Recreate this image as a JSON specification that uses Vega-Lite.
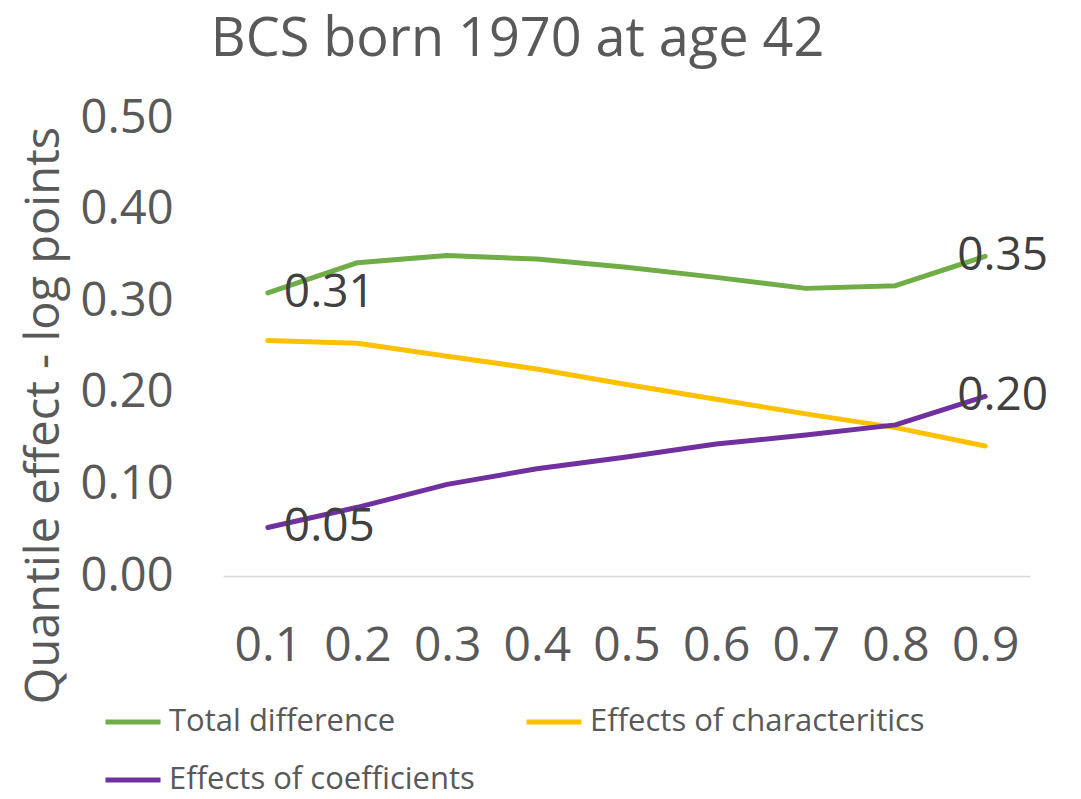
{
  "$schema": "https://vega.github.io/schema/vega-lite/v6.json",
  "width": 807,
  "height": 458,
  "autosize": "none",
  "padding": {"left": 223, "top": 118, "right": 51, "bottom": 223},
  "background": "white",
  "title": {
    "text": "BCS born 1970 at age 42",
    "font": "Open Sans",
    "fontSize": 54,
    "fontWeight": "normal",
    "color": "#595959",
    "anchor": "middle",
    "dx": -109,
    "offset": 27
  },
  "data": {
    "values": [
      {"q": "0.1", "series": "Total difference", "value": 0.309},
      {"q": "0.2", "series": "Total difference", "value": 0.342},
      {"q": "0.3", "series": "Total difference", "value": 0.350},
      {"q": "0.4", "series": "Total difference", "value": 0.346},
      {"q": "0.5", "series": "Total difference", "value": 0.337},
      {"q": "0.6", "series": "Total difference", "value": 0.326},
      {"q": "0.7", "series": "Total difference", "value": 0.314},
      {"q": "0.8", "series": "Total difference", "value": 0.317},
      {"q": "0.9", "series": "Total difference", "value": 0.349},
      {"q": "0.1", "series": "Effects of characteritics", "value": 0.257},
      {"q": "0.2", "series": "Effects of characteritics", "value": 0.254},
      {"q": "0.3", "series": "Effects of characteritics", "value": 0.240},
      {"q": "0.4", "series": "Effects of characteritics", "value": 0.226},
      {"q": "0.5", "series": "Effects of characteritics", "value": 0.209},
      {"q": "0.6", "series": "Effects of characteritics", "value": 0.193},
      {"q": "0.7", "series": "Effects of characteritics", "value": 0.177},
      {"q": "0.8", "series": "Effects of characteritics", "value": 0.162},
      {"q": "0.9", "series": "Effects of characteritics", "value": 0.142},
      {"q": "0.1", "series": "Effects of coefficients", "value": 0.053},
      {"q": "0.2", "series": "Effects of coefficients", "value": 0.075},
      {"q": "0.3", "series": "Effects of coefficients", "value": 0.100},
      {"q": "0.4", "series": "Effects of coefficients", "value": 0.117},
      {"q": "0.5", "series": "Effects of coefficients", "value": 0.130},
      {"q": "0.6", "series": "Effects of coefficients", "value": 0.144},
      {"q": "0.7", "series": "Effects of coefficients", "value": 0.154},
      {"q": "0.8", "series": "Effects of coefficients", "value": 0.165},
      {"q": "0.9", "series": "Effects of coefficients", "value": 0.196}
    ]
  },
  "encoding": {
    "x": {
      "field": "q",
      "type": "ordinal",
      "scale": {"type": "point", "padding": 0.5},
      "axis": {
        "title": null,
        "labelAngle": 0,
        "labelFont": "Open Sans",
        "labelFontSize": 48,
        "labelColor": "#595959",
        "labelBaseline": "middle",
        "labelPadding": 70,
        "ticks": false,
        "tickSize": 0,
        "grid": false,
        "domain": true,
        "domainColor": "#D9D9D9",
        "domainWidth": 1.5
      }
    },
    "y": {
      "field": "value",
      "type": "quantitative",
      "scale": {"domain": [0, 0.5], "nice": false, "zero": true},
      "axis": {
        "values": [0, 0.1, 0.2, 0.3, 0.4, 0.5],
        "format": ".2f",
        "title": "Quantile effect - log points",
        "titleFont": "Open Sans",
        "titleFontSize": 47,
        "titleFontWeight": "normal",
        "titleColor": "#595959",
        "titleAngle": -90,
        "titleX": -165,
        "titleY": 297,
        "titleAlign": "center",
        "titleBaseline": "alphabetic",
        "labelFont": "Open Sans",
        "labelFontSize": 47,
        "labelColor": "#595959",
        "labelPadding": 50,
        "labelBaseline": "middle",
        "ticks": false,
        "tickSize": 0,
        "grid": false,
        "domain": false
      }
    }
  },
  "layer": [
    {
      "mark": {"type": "line", "strokeWidth": 5, "strokeCap": "round", "strokeJoin": "round"},
      "encoding": {
        "color": {
          "field": "series",
          "type": "nominal",
          "scale": {
            "domain": ["Total difference", "Effects of characteritics", "Effects of coefficients"],
            "range": ["#70AD47", "#FFC000", "#7030A0"]
          },
          "legend": {
            "title": null,
            "orient": "none",
            "direction": "horizontal",
            "legendX": -120,
            "legendY": 574,
            "columns": 2,
            "columnPadding": 41,
            "rowPadding": 13,
            "symbolType": "stroke",
            "symbolSize": 3025,
            "symbolStrokeWidth": 5,
            "labelFont": "Open Sans",
            "labelFontSize": 31,
            "labelColor": "#595959",
            "labelOffset": 6,
            "labelLimit": 600
          }
        }
      }
    },
    {
      "transform": [
        {"filter": "datum.q == '0.1' && datum.series != 'Effects of characteritics'"}
      ],
      "mark": {"type": "text", "align": "left", "baseline": "middle", "dx": 16, "font": "Open Sans", "fontSize": 46, "color": "#404040"},
      "encoding": {
        "text": {"field": "value", "type": "quantitative", "format": ".2f"}
      }
    },
    {
      "transform": [
        {"filter": "datum.q == '0.9' && datum.series != 'Effects of characteritics'"}
      ],
      "mark": {"type": "text", "align": "right", "baseline": "middle", "dx": 63, "font": "Open Sans", "fontSize": 46, "color": "#404040"},
      "encoding": {
        "text": {"field": "value", "type": "quantitative", "format": ".2f"}
      }
    }
  ],
  "config": {
    "view": {"stroke": null}
  }
}
